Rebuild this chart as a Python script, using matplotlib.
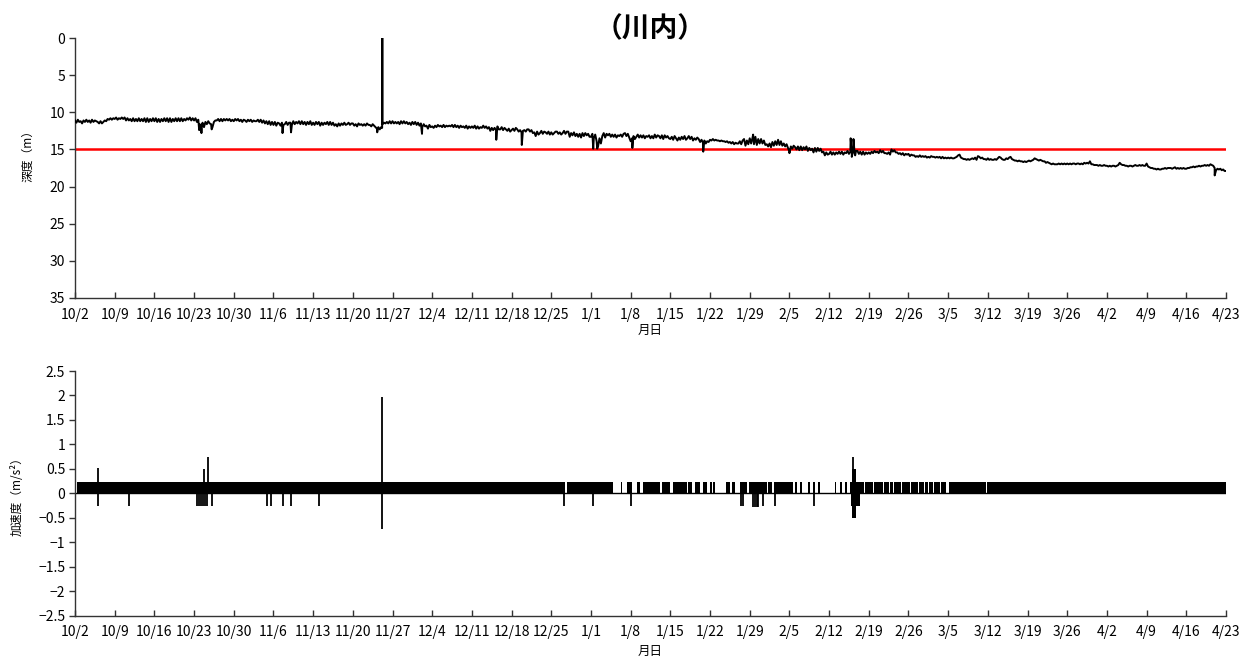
import numpy as np
import matplotlib
matplotlib.use("Agg")
import matplotlib.pyplot as plt

plt.rcParams['font.family'] = ['Noto Sans CJK JP', 'DejaVu Sans']

# ---------------------------------------------------------------------------
# Depth record (m), four readings per day (00, 06, 12, 18 h), from 10/2
# ---------------------------------------------------------------------------
depth_oct = [
    11.1, 11.4, 11.0, 11.3,  11.2, 11.5, 11.1, 11.3,  11.0, 11.3, 11.1, 11.4,
    11.0, 11.3, 11.1, 11.2,  11.3, 11.5, 11.2, 11.5,  11.3, 11.1, 11.2, 10.9,
    11.0, 10.8, 11.0, 10.8,  10.9, 10.7, 11.0, 10.8,  10.9, 10.7, 10.9, 10.7,
    11.1, 10.8, 11.1, 10.9,  11.2, 10.8, 11.2, 10.9,  11.2, 10.8, 11.2, 10.9,
    11.2, 10.8, 11.3, 10.8,  11.3, 10.9, 11.2, 10.8,  11.2, 10.8, 11.3, 10.9,
    11.3, 10.9, 11.2, 10.8,  11.2, 10.8, 11.3, 10.8,  11.3, 10.9, 11.2, 10.8,
    11.2, 10.8, 11.2, 10.8,  11.2, 10.9, 11.1, 10.8,  11.0, 10.7, 11.1, 10.8,
    11.1, 10.8, 11.3, 11.0,  11.6, 12.2, 11.4, 12.0,  11.3, 11.6, 11.2, 11.5,
    11.6, 12.0, 11.3, 11.1,  11.1, 10.9, 11.2, 10.9,  11.2, 10.9, 11.1, 10.9,
    11.1, 10.9, 11.2, 11.0,  11.2, 10.9, 11.1, 10.9,  11.2, 11.0, 11.3, 11.0]
depth_nov = [
    11.1, 11.3, 11.0, 11.2,  11.0, 11.3, 11.1, 11.2,  11.2, 11.0, 11.3, 11.0,
    11.4, 11.1, 11.5, 11.2,  11.6, 11.2, 11.7, 11.3,  11.7, 11.3, 11.8, 11.4,
    11.5, 11.8, 11.4, 11.7,  11.6, 11.3, 11.7, 11.4,  11.4, 11.7, 11.2, 11.6,
    11.3, 11.5, 11.2, 11.6,  11.2, 11.6, 11.3, 11.7,  11.3, 11.6, 11.2, 11.7,
    11.4, 11.7, 11.3, 11.6,  11.3, 11.8, 11.4, 11.7,  11.4, 11.6, 11.3, 11.7,
    11.3, 11.7, 11.4, 11.8,  11.6, 11.9, 11.5, 11.8,  11.5, 11.7, 11.4, 11.7,
    11.6, 11.4, 11.7, 11.5,  11.5, 11.8, 11.6, 11.9,  11.5, 11.7, 11.6, 11.8,
    11.6, 11.8, 11.5, 11.7,  11.7, 11.9, 11.6, 11.8,  12.0, 12.2, 12.0, 12.3,
    12.0, 11.6, 11.4, 11.5,  11.3, 11.5, 11.2, 11.5,  11.2, 11.5, 11.3, 11.5,
    11.3, 11.6, 11.2, 11.5,  11.2, 11.5, 11.3, 11.6,  11.4, 11.7, 11.3, 11.6]
depth_dec = [
    11.3, 11.7, 11.4, 11.8,  11.5, 12.0, 11.6, 11.9,  11.8, 12.2, 11.7, 12.0,
    11.9, 12.1, 11.8, 12.0,  11.7, 11.9, 11.8, 12.0,  11.7, 12.0, 11.8, 11.9,
    11.8, 11.9, 11.7, 12.0,  11.7, 12.0, 11.8, 12.1,  11.8, 12.0, 11.9, 12.1,
    11.8, 12.2, 11.9, 12.1,  11.9, 12.1, 11.8, 12.2,  11.9, 12.2, 12.0, 12.1,
    11.8, 12.1, 11.9, 12.2,  12.0, 12.5, 12.1, 12.4,  12.1, 12.4, 11.9, 12.3,
    12.3, 12.0, 12.4, 12.1,  12.3, 12.5, 12.2, 12.6,  12.4, 12.2, 12.5, 12.1,
    12.3, 12.6, 12.4, 12.7,  12.5, 12.4, 12.6, 12.3,  12.3, 12.6, 12.4, 12.8,
    12.7, 13.2, 12.6, 13.0,  12.8, 12.5, 12.9, 12.6,  12.7, 12.9, 12.6, 13.0,
    12.7, 13.0, 12.8, 12.6,  12.6, 12.9, 12.7, 13.0,  12.8, 12.5, 12.9, 12.6,
    12.6, 13.3, 12.8, 13.1,  12.7, 13.2, 12.9, 13.3,  12.9, 13.4, 12.8, 13.2,
    12.8, 13.1, 12.9, 13.3]
depth_jan = [
    13.3, 12.9, 13.5, 13.0,  13.9, 14.6, 13.5, 14.2,  13.2, 12.8, 13.4, 12.9,
    13.1, 12.9, 13.3, 13.0,  13.3, 13.0, 13.4, 13.1,  13.2, 13.0, 13.3, 12.9,
    12.8, 13.2, 12.9, 13.4,  13.9, 13.5, 13.2, 13.6,  13.3, 13.0, 13.4, 13.1,
    13.4, 13.1, 13.5, 13.2,  13.3, 13.1, 13.5, 13.2,  13.5, 13.0, 13.4, 13.1,
    13.2, 13.5, 13.1, 13.6,  13.1, 13.4, 13.2, 13.5,  13.6, 13.3, 13.7, 13.2,
    13.5, 13.8, 13.4, 13.7,  13.3, 13.6, 13.2, 13.7,  13.5, 13.2, 13.6, 13.3,
    13.8, 13.5, 13.7, 13.4,  13.6, 14.0, 13.7, 14.1,  13.8, 14.2, 13.9, 14.0,
    13.7, 13.8, 13.6, 13.8,  13.7, 13.8, 13.8, 13.9,  13.8, 13.9, 13.9, 14.0,
    13.9, 14.1, 14.0, 14.2,  14.0, 14.3, 14.1, 14.2,  14.2, 13.9, 14.3, 13.8,
    13.6, 14.5, 13.8, 14.3,  13.5, 14.2, 13.4, 14.3,  13.3, 14.4, 13.6, 14.2,
    13.6, 14.2, 13.8, 14.4]
depth_feb = [
    14.3, 14.6, 14.2, 14.7,  14.0, 14.5, 13.9, 14.4,  13.7, 14.4, 13.9, 14.5,
    14.2, 14.6, 14.3, 14.8,  15.3, 14.6, 14.9, 14.5,  14.7, 15.0, 14.6, 15.1,
    14.6, 15.1, 14.7, 15.0,  14.6, 15.2, 14.8, 15.1,  14.9, 15.4, 14.8, 15.3,
    14.8, 15.2, 14.9, 15.4,  15.3, 15.8, 15.4, 15.7,  15.6, 15.3, 15.7, 15.4,
    15.7, 15.4, 15.6, 15.3,  15.6, 15.3, 15.7, 15.4,  15.5, 15.2, 15.6, 15.3,
    15.4, 15.1, 15.5, 15.2,  15.2, 15.6, 15.3, 15.7,  15.3, 15.7, 15.4, 15.6,
    15.4, 15.6, 15.3, 15.5,  15.2, 15.4, 15.3, 15.5,  15.1, 15.4, 15.2, 15.5,
    15.5, 15.6, 15.4, 15.7,  15.0, 15.3, 15.1, 15.4,  15.4, 15.6, 15.5, 15.7,
    15.5, 15.8, 15.6, 15.7,  15.6, 15.9, 15.7, 15.8,  15.8, 16.0, 15.9, 16.0,
    15.8, 16.0, 15.9, 16.0]
depth_mar = [
    15.9, 16.1, 16.0, 16.1,  15.9, 16.0, 16.0, 16.1,  16.0, 16.1, 16.0, 16.2,
    16.0, 16.2, 16.1, 16.2,  16.1, 16.2, 16.1, 16.2,  16.2, 16.1, 16.0, 15.8,
    15.7, 16.1, 16.2, 16.3,  16.3, 16.4, 16.3, 16.4,  16.3, 16.2, 16.3, 16.1,
    16.4, 15.9, 16.0, 16.2,  16.1, 16.3, 16.3, 16.4,  16.2, 16.4, 16.3, 16.4,
    16.4, 16.3, 16.4, 16.2,  16.0, 16.1, 16.3, 16.4,  16.4, 16.2, 16.3, 16.1,
    16.0, 16.3, 16.4, 16.5,  16.5, 16.6, 16.5, 16.6,  16.6, 16.7, 16.6, 16.7,
    16.6, 16.5, 16.6, 16.5,  16.4, 16.2, 16.3, 16.4,  16.5, 16.4, 16.5, 16.6,
    16.6, 16.8, 16.7, 16.8,  16.9, 17.0, 16.9, 17.0,  17.0, 17.0, 16.9, 17.0,
    16.9, 17.0, 16.9, 17.0,  16.9, 17.0, 16.9, 17.0,  16.9, 16.9, 17.0, 16.9,
    16.9, 17.0, 16.9, 17.0,  16.8, 16.9, 16.8, 16.9,  16.6, 17.0, 17.0, 17.1,
    17.1, 17.1, 17.2, 17.1]
depth_apr = [
    17.2, 17.2, 17.1, 17.2,  17.2, 17.3, 17.2, 17.3,  17.2, 17.2, 17.3, 17.2,
    17.1, 16.8, 17.0, 17.1,  17.1, 17.2, 17.2, 17.3,  17.2, 17.2, 17.3, 17.2,
    17.1, 17.2, 17.2, 17.1,  17.2, 17.1, 17.2, 17.2,  16.9, 17.3, 17.4, 17.5,
    17.5, 17.6, 17.6, 17.7,  17.6, 17.7, 17.7, 17.6,  17.6, 17.5, 17.6, 17.5,
    17.5, 17.5, 17.6, 17.5,  17.4, 17.6, 17.5, 17.6,  17.5, 17.6, 17.5, 17.6,
    17.6, 17.5, 17.5, 17.4,  17.4, 17.3, 17.4, 17.3,  17.3, 17.2, 17.3, 17.2,
    17.2, 17.1, 17.2, 17.1,  17.2, 17.0, 17.1, 17.2,  17.5, 17.8, 17.6, 17.7,
    17.6, 17.8, 17.7, 17.9,  17.9]

# short-lived excursions between the regular readings (day offset, depth m)
depth_event_day = [21.9, 22.3, 22.4, 24.1, 36.6, 38.1, 53.3,
                   54.17, 54.2, 54.23, 61.2, 74.3, 78.8, 91.4, 92.1,
                   98.3, 110.8, 119.6, 126.0, 136.8, 137.0, 137.3, 137.6,
                   201.0]
depth_event_val = [12.4, 12.8, 11.6, 12.3, 12.8, 12.7, 12.7,
                   12.1, 0.0, 11.5, 12.9, 13.7, 14.4, 14.9, 14.9,
                   14.8, 15.3, 13.0, 15.5, 13.5, 16.0, 13.6, 15.8,
                   18.5]

reference_depth = 15.0

# ---------------------------------------------------------------------------
# Acceleration record (m/s^2)
# ---------------------------------------------------------------------------
accel_level = 0.24
# spans (start day, end day) where the sensor toggles continuously
accel_on_start = [0.3, 86.7, 96.3, 97.3, 99.2, 100.1, 103.5, 105.5, 108.2,
                  109.3, 110.8, 112.0, 112.6, 114.9, 115.8, 117.3, 118.8,
                  122.3, 123.2, 127.0, 127.9, 129.3, 130.2, 131.1, 134.0,
                  134.9, 135.8, 136.7, 139.4, 140.9, 142.7, 143.8, 144.4,
                  145.9, 147.4, 148.8, 150.0, 150.6, 151.5, 152.7, 154.2,
                  160.9]
accel_on_end = [86.5, 94.9, 96.5, 98.2, 99.6, 103.2, 104.9, 107.9, 108.8,
                110.2, 111.4, 112.3, 112.9, 115.5, 116.4, 118.5, 122.0,
                122.9, 126.7, 127.3, 128.2, 129.6, 130.5, 131.4, 134.3,
                135.2, 136.1, 139.2, 140.7, 142.5, 143.6, 144.2, 145.7,
                147.2, 148.6, 149.8, 150.4, 151.3, 152.5, 153.6, 160.7,
                203.0]

# isolated peaks (day offset, low value, high value)
accel_peak_day = [4.0, 9.5, 21.5, 21.9, 22.3, 22.6, 22.8, 23.0, 23.3, 23.5,
                  24.1, 33.8, 34.5, 36.6, 38.1, 43.1, 54.2, 86.2, 91.4,
                  98.0, 117.4, 117.8, 119.6, 119.9, 120.2, 120.5, 121.3,
                  123.4, 130.3, 137.3]
accel_peak_low = [-0.25, -0.25, -0.25, -0.25, -0.25, -0.25, 0.0, -0.25,
                  -0.25, 0.0, -0.25, -0.25, -0.25, -0.25, -0.25, -0.25,
                  -0.73, -0.25, -0.25, -0.25, -0.25, -0.25, -0.27, -0.27,
                  -0.27, -0.27, -0.25, -0.25, -0.25, 0.0]
accel_peak_high = [0.52, 0.0, 0.0, 0.0, 0.0, 0.0, 0.50, 0.0, 0.0, 0.74,
                   0.0, 0.0, 0.0, 0.0, 0.0, 0.0, 1.96, 0.0, 0.0, 0.0,
                   0.0, 0.0, 0.0, 0.0, 0.0, 0.0, 0.0, 0.0, 0.0, 0.74]

# 2/16 burst blocks (start day, end day, low, high)
burst_start = [136.9, 137.0]
burst_end = [138.4, 137.7]
burst_low = [-0.25, -0.50]
burst_high = [0.24, 0.50]

# ---------------------------------------------------------------------------
# Axis labelling
# ---------------------------------------------------------------------------
date_labels = ["10/2", "10/9", "10/16", "10/23", "10/30", "11/6", "11/13",
               "11/20", "11/27", "12/4", "12/11", "12/18", "12/25", "1/1",
               "1/8", "1/15", "1/22", "1/29", "2/5", "2/12", "2/19", "2/26",
               "3/5", "3/12", "3/19", "3/26", "4/2", "4/9", "4/16", "4/23"]
depth_ticks = [0, 5, 10, 15, 20, 25, 30, 35]
accel_ticks = [2.5, 2.0, 1.5, 1.0, 0.5, 0.0, -0.5, -1.0, -1.5, -2.0, -2.5]
accel_tick_labels = ["2.5", "2", "1.5", "1", "0.5", "0", "\u22120.5", "\u22121",
                     "\u22121.5", "\u22122", "\u22122.5"]

title_text = "（川内）"
depth_ylabel = "深度（m）"
accel_ylabel = "加速度（m/s²）"
x_label = "月日"

# ---------------------------------------------------------------------------
W, H = 1251, 659
fig = plt.figure(figsize=(W / 100, H / 100), dpi=100)
fig.patch.set_facecolor("white")

ax1 = fig.add_axes([75 / W, 1 - 298 / H, 1151 / W, 260 / H])
ax2 = fig.add_axes([75 / W, 1 - 615.7 / H, 1151 / W, 244.7 / H])

n_days = 7 * (len(date_labels) - 1)
tick_days = np.arange(len(date_labels)) * 7


def style_axes(ax):
    for side in ("top", "right"):
        ax.spines[side].set_visible(False)
    for side in ("left", "bottom"):
        ax.spines[side].set_linewidth(1.0)
        ax.spines[side].set_color("#333333")
    ax.set_xlim(0, n_days)
    ax.set_xticks(tick_days)
    ax.set_xticklabels(date_labels)
    ax.tick_params(axis="x", direction="in", length=4, width=1.0,
                   color="#333333", labelsize=10, pad=7)
    ax.tick_params(axis="y", direction="out", length=4, width=1.0,
                   color="#333333", labelsize=10, pad=3)


# ---- depth panel ----
depth = np.array(depth_oct + depth_nov + depth_dec + depth_jan +
                 depth_feb + depth_mar + depth_apr)
depth_day = np.arange(len(depth)) * 0.25
all_day = np.concatenate([depth_day, depth_event_day])
all_depth = np.concatenate([depth, depth_event_val])
order = np.argsort(all_day, kind="stable")

style_axes(ax1)
ax1.axhline(reference_depth, color="#ff0000", lw=1.8, zorder=2)
ax1.plot(all_day[order], all_depth[order], color="black", lw=1.4, zorder=3)
ax1.set_ylim(35, 0)
ax1.set_yticks(depth_ticks)
ax1.set_yticklabels([str(v) for v in depth_ticks])

# ---- acceleration panel ----
style_axes(ax2)
ax2.set_ylim(-2.5, 2.5)
ax2.set_yticks(accel_ticks)
ax2.set_yticklabels(accel_tick_labels)
ax2.axhline(0, color="black", lw=1.0, zorder=2)
starts = np.array(accel_on_start)
ends = np.array(accel_on_end)
ax2.bar(starts, accel_level, width=ends - starts, align="edge",
        color="black", edgecolor="none", zorder=3)
ax2.vlines(accel_peak_day, accel_peak_low, accel_peak_high,
           color="black", lw=1.3, zorder=4)
bs = np.array(burst_start)
be = np.array(burst_end)
ax2.bar(bs, np.array(burst_high) - np.array(burst_low), width=be - bs,
        bottom=burst_low, align="edge", color="black", edgecolor="none",
        zorder=4)

# ---- texts ----
fig.text(650 / W, 1 - 29 / H, title_text, ha="center", va="center",
         fontsize=20, fontweight="bold")
fig.text(28 / W, 1 - 153 / H, depth_ylabel, rotation=90, ha="center",
         va="center", fontsize=8.5)
fig.text(17 / W, 1 - 494 / H, accel_ylabel, rotation=90, ha="center",
         va="center", fontsize=8.5)
fig.text(650 / W, 1 - 330 / H, x_label, ha="center", va="center", fontsize=9)
fig.text(650 / W, 1 - 651 / H, x_label, ha="center", va="center", fontsize=9)

fig.savefig("out.png", dpi=100, facecolor="white")
